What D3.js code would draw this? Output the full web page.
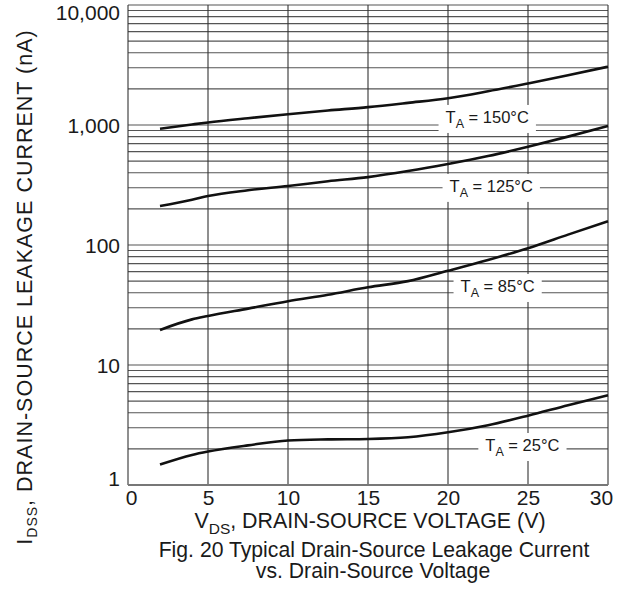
<!DOCTYPE html>
<html>
<head>
<meta charset="utf-8">
<script src="https://cdn.jsdelivr.net/npm/d3@7"></script>
<style>
  body { margin: 0; background: #fff; }
  text { font-family: "Liberation Sans", Arial, sans-serif; fill: #1a1a1a; }
</style>
</head>
<body>
<div id="chart"></div>
<script>
// drain-source voltage (V) sample points
var vds = [2, 4, 5, 7.5, 10, 12.5, 15, 17.5, 20, 22.5, 25, 27.5, 30];
// leakage current (nA) per temperature
var ids150 = [930, 1010, 1050, 1140, 1230, 1320, 1410, 1530, 1670, 1910, 2220, 2600, 3060];
var ids125 = [211, 238, 256, 286, 310, 340, 368, 413, 473, 551, 659, 800, 981];
var ids85  = [19.6, 24, 25.6, 29.5, 34, 38.5, 44.4, 50, 61, 75, 94, 122, 158];
var ids25  = [1.48, 1.78, 1.9, 2.14, 2.35, 2.4, 2.42, 2.5, 2.75, 3.15, 3.78, 4.62, 5.6];
var tempLabels = ["150°C", "125°C", "85°C", "25°C"];
var xTicks = [0, 5, 10, 15, 20, 25, 30];
var yTicks = [1, 10, 100, 1000, 10000];

var margin = {top: 5, right: 18, bottom: 105, left: 128},
    width = 626 - margin.left - margin.right,
    height = 590 - margin.top - margin.bottom;

var svg = d3.select("#chart")
  .append("svg")
    .attr("width", 626)
    .attr("height", 590)
  .append("g")
    .attr("transform", "translate(" + margin.left + "," + margin.top + ")");

var x = d3.scaleLinear().domain([0, 30]).range([0, width]);
var y = d3.scaleLog().domain([1, 10000]).range([height, 0]);

// horizontal grid: every 1..9 of each decade
var minor = [];
[1, 10, 100, 1000].forEach(function(d) {
  for (var k = 1; k < 10; k++) minor.push(d * k);
});
minor.push(10000);

svg.selectAll(".hgrid")
  .data(minor)
  .enter()
  .append("line")
    .attr("x1", 0).attr("x2", width)
    .attr("y1", function(d) { return y(d); })
    .attr("y2", function(d) { return y(d); })
    .attr("stroke", "#555")
    .attr("stroke-width", 1.1);

svg.selectAll(".vgrid")
  .data(xTicks)
  .enter()
  .append("line")
    .attr("x1", function(d) { return x(d); })
    .attr("x2", function(d) { return x(d); })
    .attr("y1", 0).attr("y2", height)
    .attr("stroke", "#333")
    .attr("stroke-width", 1.1);

// bottom frame a bit heavier
svg.append("line")
  .attr("x1", 0).attr("x2", width)
  .attr("y1", height).attr("y2", height)
  .attr("stroke", "#777")
  .attr("stroke-width", 1.8);

// axes (tick labels only)
var xAxis = svg.append("g")
  .attr("transform", "translate(0," + height + ")")
  .call(d3.axisBottom(x).tickValues(xTicks).tickSize(0).tickPadding(5));
xAxis.select(".domain").remove();
xAxis.selectAll("text")
  .style("font-size", "21px")
  .attr("dx", function(d) { return d === 30 ? "-7" : d === 0 ? "3" : "0"; });

var yAxis = svg.append("g")
  .call(d3.axisLeft(y).tickValues(yTicks).tickFormat(d3.format(",")).tickSize(0).tickPadding(8));
yAxis.select(".domain").remove();
yAxis.selectAll("text")
  .style("font-size", "21px")
  .attr("dy", function(d) { return d === 1 ? "0.02em" : d === 10000 ? "0.7em" : "0.38em"; });

// temperature labels with white backing
var labelPos = [[22.45, 1040], [22.7, 277], [23.1, 40.6], [24.65, 1.92]];
var series = [ids150, ids125, ids85, ids25];

var labels = svg.selectAll(".tlabel")
  .data(tempLabels)
  .enter()
  .append("g")
    .attr("transform", function(d, i) {
      return "translate(" + x(labelPos[i][0]) + "," + y(labelPos[i][1]) + ")";
    });

labels.append("rect")
  .attr("fill", "#fff");

var lt = labels.append("text")
  .attr("text-anchor", "middle")
  .style("font-size", "16.5px");
lt.append("tspan").text("T");
lt.append("tspan").attr("dy", 5).style("font-size", "12.5px").text("A");
lt.append("tspan").attr("dy", -5).text(function(d) { return " = " + d; });

labels.each(function() {
  var g = d3.select(this);
  var b = g.select("text").node().getBBox();
  g.select("rect")
    .attr("x", b.x - 7)
    .attr("y", -18)
    .attr("width", b.width + 14)
    .attr("height", 28);
});

// curves
var line = d3.line()
  .x(function(d, i) { return x(vds[i]); })
  .y(function(d) { return y(d); })
  .curve(d3.curveMonotoneX);

svg.selectAll(".curve")
  .data(series)
  .enter()
  .append("path")
    .attr("d", line)
    .attr("fill", "none")
    .attr("stroke", "#111")
    .attr("stroke-width", 2.6);

// axis titles
var xt = svg.append("text")
  .attr("x", 242)
  .attr("y", 523)
  .attr("text-anchor", "middle")
  .style("font-size", "21.4px");
xt.append("tspan").text("V");
xt.append("tspan").attr("dy", 6).style("font-size", "15.5px").text("DS");
xt.append("tspan").attr("dy", -6).text(", DRAIN-SOURCE VOLTAGE (V)");

svg.append("text")
  .attr("x", 246)
  .attr("y", 552)
  .attr("text-anchor", "middle")
  .style("font-size", "21.2px")
  .text("Fig. 20 Typical Drain-Source Leakage Current");
svg.append("text")
  .attr("x", 245)
  .attr("y", 573)
  .attr("text-anchor", "middle")
  .style("font-size", "21.2px")
  .text("vs. Drain-Source Voltage");

var yt = svg.append("text")
  .attr("transform", "translate(" + (32 - margin.left) + "," + (287 - margin.top) + ")rotate(-90)")
  .attr("text-anchor", "middle")
  .style("font-size", "21.5px")
  .style("letter-spacing", "1px");
yt.append("tspan").text("I");
yt.append("tspan").attr("dy", 5).style("font-size", "14px").text("DSS");
yt.append("tspan").attr("dy", -5).text(", DRAIN-SOURCE LEAKAGE CURRENT (nA)");
</script>
</body>
</html>
